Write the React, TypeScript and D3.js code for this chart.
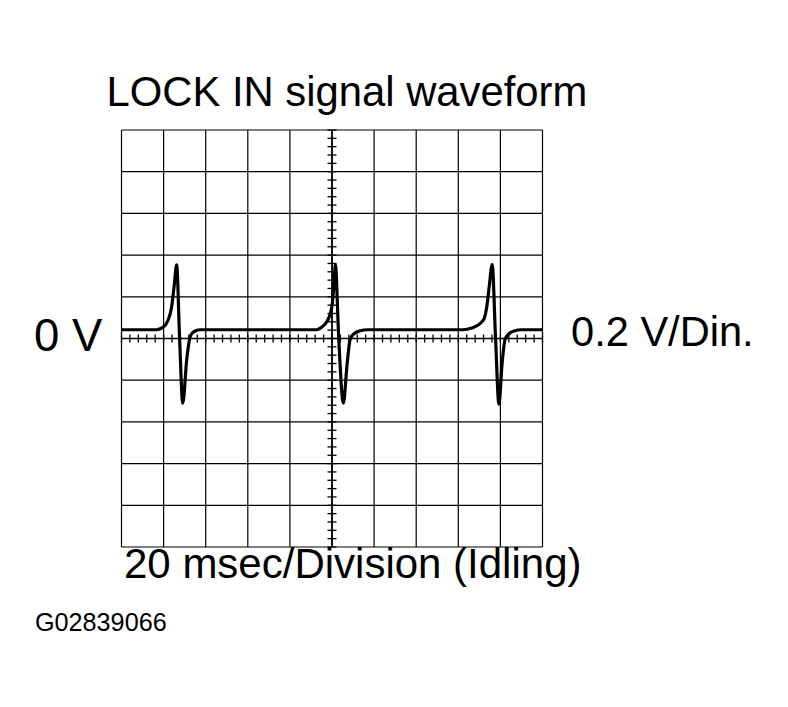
import React from "react";
import * as d3 from "d3";

const W = 788;
const H = 707;

// Oscilloscope settings
const timeDomain = [0, 200]; // ms (20 ms/div, 10 div)
const voltDomain = [-1, 1]; // V (0.2 V/div, 10 div)
const timeDivisions = d3.range(0, 201, 20);
const voltDivisions = d3.range(-1, 1.0001, 0.2);
const timeMinorTicks = d3.range(0, 201, 4);
const voltMinorTicks = d3.range(-1, 1.0001, 0.04);

// Trace: [time ms, volts]
const spike1: [number, number][] = [
  [0, 0.042], [16.5, 0.042], [19.5, 0.052], [22.0, 0.085], [23.8, 0.15], [25.0, 0.25],
  [26.2, 0.353], [27.6, 0.0], [29.1, -0.31], [31.0, -0.1], [32.5, 0.005], [33.5, 0.025],
  [35.0, 0.036], [37.5, 0.042],
];
const spike2: [number, number][] = [
  [92.5, 0.042], [94.5, 0.05], [98.0, 0.088], [99.9, 0.15], [100.9, 0.25], [101.6, 0.355],
  [103.2, 0.0], [105.4, -0.31], [107.2, -0.12], [108.6, -0.005], [110.1, 0.02],
  [113.0, 0.036], [117.0, 0.042],
];
const spike3: [number, number][] = [
  [162.0, 0.042], [166.4, 0.05], [171.9, 0.088], [173.5, 0.15], [174.7, 0.25],
  [176.1, 0.355], [177.7, 0.0], [179.3, -0.315], [180.8, -0.12], [182.2, -0.005],
  [184.0, 0.022], [186.5, 0.036], [190.0, 0.042], [200.0, 0.042],
];
const trace = [...spike1, ...spike2, ...spike3];

const titleText = "LOCK IN signal waveform";
const leftLabel = "0 V";
const rightLabel = "0.2 V/Din.";
const bottomLabel = "20 msec/Division (Idling)";
const codeLabel = "G02839066";

export default function App() {
  const x = d3.scaleLinear().domain(timeDomain).range([121.5, 542.5]);
  const y = d3.scaleLinear().domain(voltDomain).range([547, 130]);
  const cx = x(100);
  const cy = y(0);
  const line = d3
    .line<[number, number]>()
    .x((d) => x(d[0]))
    .y((d) => y(d[1]))
    .curve(d3.curveMonotoneX);
  const font = "'Liberation Sans', Arial, Helvetica, sans-serif";

  return (
    <svg
      width={W}
      height={H}
      style={{ position: "absolute", left: 0, top: 0, background: "#fff" }}
    >
      <rect x={0} y={0} width={W} height={H} fill="#fff" />
      <text x={106.5} y={106} fontFamily={font} fontSize={41.8} fill="#000">
        {titleText}
      </text>
      {/* grid */}
      <g stroke="#000" strokeWidth={1.2}>
        {timeDivisions.map((t) => (
          <line key={"v" + t} x1={x(t)} x2={x(t)} y1={y(-1)} y2={y(1)} />
        ))}
        {voltDivisions.map((v, i) => (
          <line key={"h" + i} x1={x(0)} x2={x(200)} y1={y(v)} y2={y(v)} />
        ))}
      </g>
      {/* centre axes ticks */}
      <g stroke="#000" strokeWidth={1.3}>
        <line x1={x(0)} x2={x(200)} y1={cy} y2={cy} strokeWidth={1.6} />
        <line x1={cx} x2={cx} y1={y(-1)} y2={y(1)} strokeWidth={1.6} />
        {timeMinorTicks.map((t) => (
          <line key={"tt" + t} x1={x(t)} x2={x(t)} y1={cy - 4} y2={cy + 4} />
        ))}
        {voltMinorTicks.map((v, i) => (
          <line key={"vt" + i} x1={cx - 4.5} x2={cx + 4.5} y1={y(v)} y2={y(v)} />
        ))}
      </g>
      <path
        d={line(trace) || ""}
        fill="none"
        stroke="#000"
        strokeWidth={3.2}
        strokeLinejoin="miter"
      />
      <text x={34} y={350.5} fontFamily={font} fontSize={45.5} fill="#000">
        {leftLabel}
      </text>
      <text x={571} y={345.5} fontFamily={font} fontSize={41.6} fill="#000">
        {rightLabel}
      </text>
      <text x={124} y={578} fontFamily={font} fontSize={42} fill="#000">
        {bottomLabel}
      </text>
      <text x={35} y={631} fontFamily={font} fontSize={25.2} fill="#000">
        {codeLabel}
      </text>
    </svg>
  );
}
